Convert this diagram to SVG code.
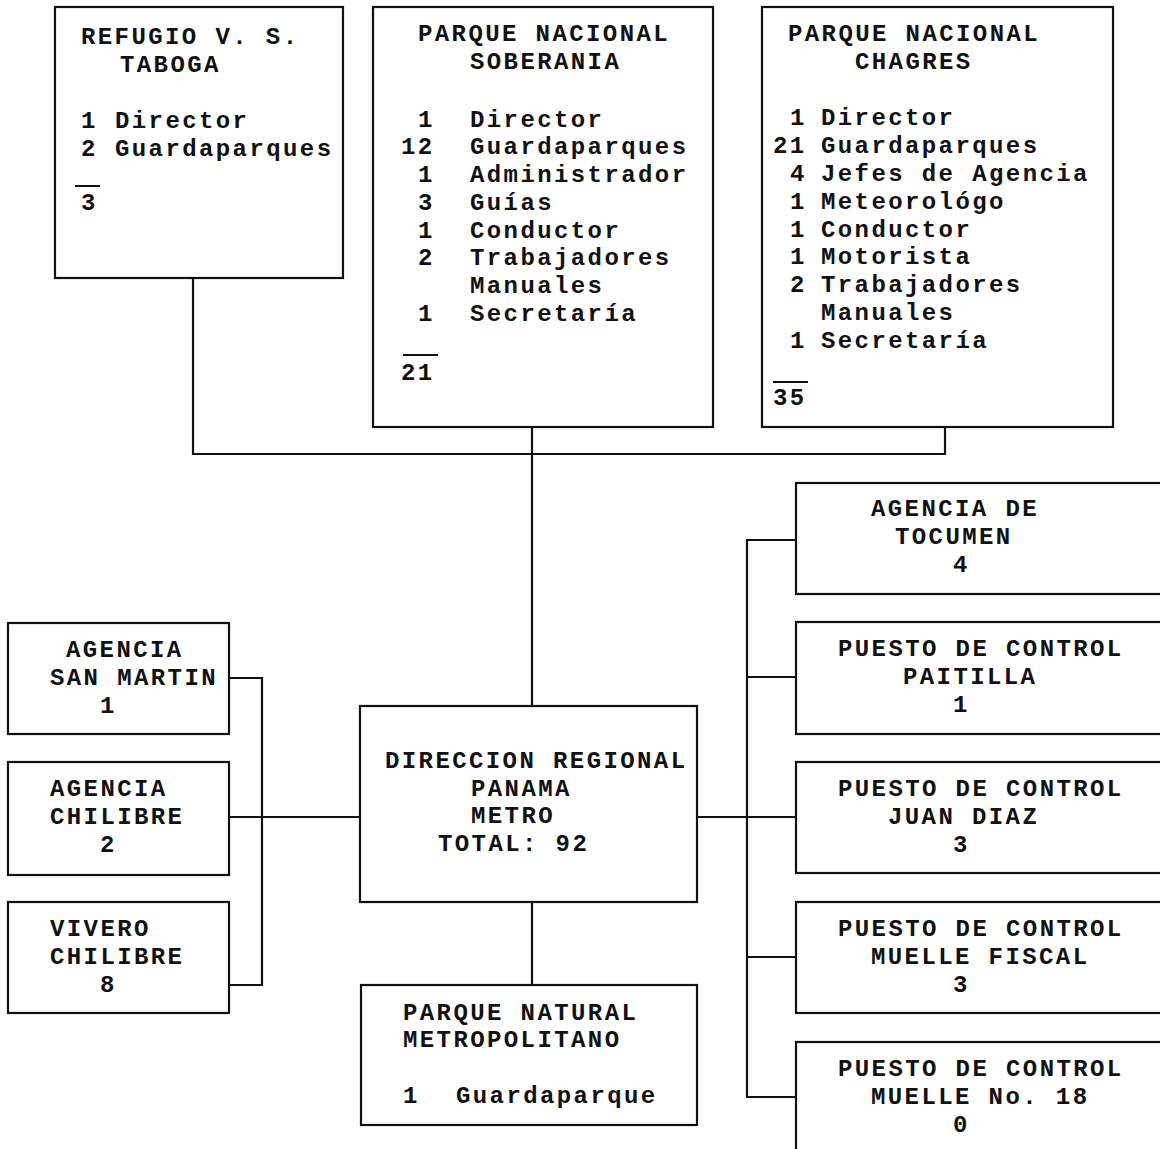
<svg xmlns="http://www.w3.org/2000/svg" width="1160" height="1149" viewBox="0 0 1160 1149">
<style>
  .box { fill: #ffffff; stroke: #111111; stroke-width: 2.2; }
  .conn { fill: none; stroke: #111111; stroke-width: 2.2; }
  .ul { stroke: #111111; stroke-width: 2; }
  text { font-family: "Liberation Mono", "DejaVu Sans Mono", monospace; font-weight: bold; font-size: 24px; letter-spacing: 2.4px; fill: #111111; }
</style>
<rect x="0" y="0" width="1160" height="1149" fill="#ffffff"/>
<g id="connectors">
  <path class="conn" d="M193 278 V454 H945 V427"/>
  <path class="conn" d="M532 427 V706"/>
  <path class="conn" d="M532 902 V985"/>
  <path class="conn" d="M229 678 H262 V985 H229"/>
  <path class="conn" d="M229 817 H360"/>
  <path class="conn" d="M697 817 H796"/>
  <path class="conn" d="M796 540 H747 V1097 H796"/>
  <path class="conn" d="M747 677 H796"/>
  <path class="conn" d="M747 957 H796"/>
</g>
<g id="refugio">
  <rect class="box" x="55" y="7" width="288" height="271"/>
  <text x="81" y="44">REFUGIO V. S.</text>
  <text x="120" y="72">TABOGA</text>
  <text x="81" y="128">1</text><text x="115" y="128">Director</text>
  <text x="81" y="156">2</text><text x="115" y="156">Guardaparques</text>
  <line class="ul" x1="75" y1="186" x2="100" y2="186"/>
  <text x="81" y="210">3</text>
</g>
<g id="soberania">
  <rect class="box" x="373" y="7" width="340" height="420"/>
  <text x="418" y="41">PARQUE NACIONAL</text>
  <text x="470" y="69">SOBERANIA</text>
  <text x="418" y="127">1</text><text x="470" y="127">Director</text>
  <text x="401" y="154">12</text><text x="470" y="154">Guardaparques</text>
  <text x="418" y="182">1</text><text x="470" y="182">Administrador</text>
  <text x="418" y="210">3</text><text x="470" y="210">Guías</text>
  <text x="418" y="238">1</text><text x="470" y="238">Conductor</text>
  <text x="418" y="265">2</text><text x="470" y="265">Trabajadores</text>
  <text x="470" y="293">Manuales</text>
  <text x="418" y="321">1</text><text x="470" y="321">Secretaría</text>
  <line class="ul" x1="403" y1="355" x2="438" y2="355"/>
  <text x="401" y="380">21</text>
</g>
<g id="chagres">
  <rect class="box" x="762" y="7" width="351" height="420"/>
  <text x="788" y="41">PARQUE NACIONAL</text>
  <text x="855" y="69">CHAGRES</text>
  <text x="790" y="125">1</text><text x="821" y="125">Director</text>
  <text x="773" y="153">21</text><text x="821" y="153">Guardaparques</text>
  <text x="790" y="181">4</text><text x="821" y="181">Jefes de Agencia</text>
  <text x="790" y="209">1</text><text x="821" y="209">Meteorológo</text>
  <text x="790" y="237">1</text><text x="821" y="237">Conductor</text>
  <text x="790" y="264">1</text><text x="821" y="264">Motorista</text>
  <text x="790" y="292">2</text><text x="821" y="292">Trabajadores</text>
  <text x="821" y="320">Manuales</text>
  <text x="790" y="348">1</text><text x="821" y="348">Secretaría</text>
  <line class="ul" x1="773" y1="382" x2="808" y2="382"/>
  <text x="773" y="405">35</text>
</g>
<g id="direccion">
  <rect class="box" x="360" y="706" width="337" height="196"/>
  <text x="385" y="768">DIRECCION REGIONAL</text>
  <text x="471" y="796">PANAMA</text>
  <text x="471" y="823">METRO</text>
  <text x="438" y="851">TOTAL: 92</text>
</g>
<g id="parque-natural">
  <rect class="box" x="361" y="985" width="336" height="140"/>
  <text x="403" y="1020">PARQUE NATURAL</text>
  <text x="403" y="1047">METROPOLITANO</text>
  <text x="403" y="1103">1</text><text x="456" y="1103">Guardaparque</text>
</g>
<g id="san-martin">
  <rect class="box" x="8" y="623" width="221" height="111"/>
  <text x="66" y="657">AGENCIA</text>
  <text x="50" y="685">SAN MARTIN</text>
  <text x="100" y="713">1</text>
</g>
<g id="agencia-chilibre">
  <rect class="box" x="8" y="762" width="221" height="113"/>
  <text x="50" y="796">AGENCIA</text>
  <text x="50" y="824">CHILIBRE</text>
  <text x="100" y="852">2</text>
</g>
<g id="vivero-chilibre">
  <rect class="box" x="8" y="902" width="221" height="111"/>
  <text x="50" y="936">VIVERO</text>
  <text x="50" y="964">CHILIBRE</text>
  <text x="100" y="992">8</text>
</g>
<g id="tocumen">
  <rect class="box" x="796" y="483" width="374" height="111"/>
  <text x="871" y="516">AGENCIA DE</text>
  <text x="895" y="544">TOCUMEN</text>
  <text x="953" y="572">4</text>
</g>
<g id="paitilla">
  <rect class="box" x="796" y="622" width="374" height="112"/>
  <text x="838" y="656">PUESTO DE CONTROL</text>
  <text x="903" y="684">PAITILLA</text>
  <text x="953" y="712">1</text>
</g>
<g id="juan-diaz">
  <rect class="box" x="796" y="762" width="374" height="111"/>
  <text x="838" y="796">PUESTO DE CONTROL</text>
  <text x="888" y="824">JUAN DIAZ</text>
  <text x="953" y="852">3</text>
</g>
<g id="muelle-fiscal">
  <rect class="box" x="796" y="902" width="374" height="111"/>
  <text x="838" y="936">PUESTO DE CONTROL</text>
  <text x="871" y="964">MUELLE FISCAL</text>
  <text x="953" y="992">3</text>
</g>
<g id="muelle-18">
  <rect class="box" x="796" y="1042" width="374" height="120"/>
  <text x="838" y="1076">PUESTO DE CONTROL</text>
  <text x="871" y="1104">MUELLE No. 18</text>
  <text x="953" y="1132">0</text>
</g>
</svg>
